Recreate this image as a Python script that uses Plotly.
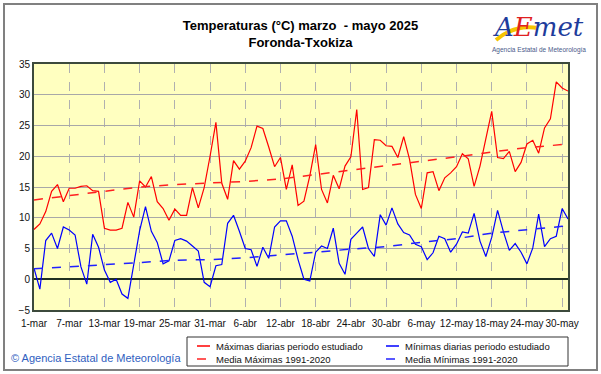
import pandas as pd
import plotly.graph_objects as go

# ---------------- data ----------------
dates = pd.date_range("2025-03-01", "2025-05-31", freq="D")

tmax = [8.1, 9.0, 11.0, 14.3, 15.4, 12.6, 14.8, 14.8, 15.1, 15.2, 14.4, 14.3,
        8.3, 8.0, 8.0, 8.3, 12.5, 10.1, 16.0, 15.0, 16.7, 12.6, 11.5, 9.6,
        11.4, 10.4, 10.4, 14.9, 11.6, 14.9, 20.0, 25.5, 15.6, 13.0, 19.3, 17.9,
        19.2, 21.4, 24.9, 24.5, 21.5, 18.3, 19.8, 14.6, 18.6, 12.0, 12.7, 16.8,
        21.9, 14.6, 12.4, 16.9, 14.7, 18.4, 19.9, 27.6, 14.6, 14.9, 22.7, 22.6,
        21.7, 21.6, 19.8, 23.2, 19.5, 13.8, 11.5, 17.3, 17.5, 14.4, 16.5, 17.3,
        18.3, 20.4, 19.6, 15.1, 18.4, 23.0, 27.3, 19.8, 19.6, 20.8, 17.5, 19.0,
        22.0, 22.6, 20.5, 24.6, 26.1, 32.1, 31.1, 30.6]

tmin = [1.8, -1.6, 6.3, 7.5, 5.0, 8.5, 8.0, 7.2, 2.0, -0.8, 7.3, 5.2,
        1.5, -0.5, 0.0, -2.4, -3.1, 2.7, 7.9, 11.8, 7.8, 6.0, 2.5, 3.0,
        6.3, 6.6, 6.2, 5.4, 4.6, -0.5, -1.2, 2.2, 2.4, 9.1, 10.4, 7.8,
        5.0, 4.8, 2.1, 5.2, 3.4, 8.5, 9.5, 9.5, 7.0, 3.2, 0.0, -0.3,
        4.4, 5.4, 5.0, 8.3, 2.6, 0.8, 6.5, 7.5, 8.5, 5.0, 3.7, 10.5,
        8.8, 11.6, 9.0, 7.6, 7.2, 5.7, 5.3, 3.2, 4.3, 7.0, 6.6, 4.4,
        5.7, 7.7, 7.5, 10.7, 6.2, 3.7, 6.8, 11.2, 7.7, 4.7, 5.8, 4.4,
        2.5, 5.1, 10.6, 5.3, 6.6, 7.0, 11.5, 9.8]

mean_dates = ["2025-03-01", "2025-03-07", "2025-03-13", "2025-03-19", "2025-03-25",
              "2025-03-31", "2025-04-06", "2025-04-12", "2025-04-18", "2025-04-24",
              "2025-04-30", "2025-05-06", "2025-05-12", "2025-05-18", "2025-05-24",
              "2025-05-30", "2025-05-31"]
mean_max = [12.9, 13.6, 14.4, 15.0, 15.4, 15.6, 15.9, 16.3, 17.0, 17.8, 18.5,
            19.2, 19.9, 20.7, 21.4, 21.9, 22.0]
mean_min = [1.7, 2.0, 2.3, 2.7, 3.1, 3.2, 3.5, 3.9, 4.4, 4.9, 5.3, 6.0, 6.6,
            7.5, 8.0, 8.6, 8.8]

tick_dates = ["2025-03-01", "2025-03-07", "2025-03-13", "2025-03-19", "2025-03-25",
              "2025-03-31", "2025-04-06", "2025-04-12", "2025-04-18", "2025-04-24",
              "2025-04-30", "2025-05-06", "2025-05-12", "2025-05-18", "2025-05-24",
              "2025-05-30"]
tick_labels = ["1-mar", "7-mar", "13-mar", "19-mar", "25-mar", "31-mar", "6-abr",
               "12-abr", "18-abr", "24-abr", "30-abr", "6-may", "12-may", "18-may",
               "24-may", "30-may"]
y_ticks = [-5, 0, 5, 10, 15, 20, 25, 30, 35]

series_names = ["Máximas diarias periodo estudiado", "Mínimas diarias periodo estudiado",
                "Media Máximas 1991-2020", "Media Mínimas 1991-2020"]
series_colors = ["#FF0000", "#0000FF", "#FF2020", "#2020FF"]

# ---------------- layout helpers ----------------
W, H = 601, 374
ML, MR, MT, MB = 34, 33, 64, 64
PW, PH = W - ML - MR, H - MT - MB


def X(px):
    return (px - ML) / PW


def Y(py):
    return (H - MB - py) / PH


FONT = "Arial, Liberation Sans, sans-serif"

fig = go.Figure()
fig.add_trace(go.Scatter(x=dates, y=tmax, mode="lines", name=series_names[0],
                         line=dict(color=series_colors[0], width=1.2)))
fig.add_trace(go.Scatter(x=dates, y=tmin, mode="lines", name=series_names[1],
                         line=dict(color=series_colors[1], width=1.2)))
fig.add_trace(go.Scatter(x=mean_dates, y=mean_max, mode="lines", name=series_names[2],
                         line=dict(color=series_colors[2], width=1.5, dash="dash")))
fig.add_trace(go.Scatter(x=mean_dates, y=mean_min, mode="lines", name=series_names[3],
                         line=dict(color=series_colors[3], width=1.5, dash="dash")))

fig.update_layout(
    width=W, height=H,
    margin=dict(l=ML, r=MR, t=MT, b=MB, autoexpand=False),
    paper_bgcolor="white",
    plot_bgcolor="#FFFFC0",
    font=dict(family=FONT, size=10, color="#111111"),
    title=dict(text="<b>Temperaturas (°C) marzo  - mayo 2025<br>Foronda-Txokiza</b>",
               x=0.5, xanchor="center", y=1 - 30 / H, yanchor="top",
               font=dict(family=FONT, size=13, color="#000000")),
    xaxis=dict(range=[dates[0], dates[-1]], tickvals=tick_dates, ticktext=tick_labels,
               tickangle=0, automargin=False, ticklabelstandoff=3,
               showgrid=True, gridcolor="#B0B0B0", griddash="dash", gridwidth=1,
               showline=True, mirror=True, linecolor="#3C4A3C", linewidth=2,
               ticks="", tickfont=dict(size=10, color="#111111"), zeroline=False),
    yaxis=dict(range=[-5, 35], tickvals=y_ticks, showgrid=True, gridcolor="#A8A8A8",
               automargin=False,
               gridwidth=1, showline=True, mirror=True, linecolor="#3C4A3C", linewidth=2,
               zeroline=True, zerolinecolor="#203020", zerolinewidth=2,
               ticks="", tickfont=dict(size=10, color="#111111")),
    showlegend=False,
)

# outer frame
fig.add_shape(type="rect", xref="paper", yref="paper",
              x0=X(4), x1=X(597), y0=Y(370), y1=Y(4),
              line=dict(color="#808080", width=2), layer="below")

# manual legend box
fig.add_shape(type="rect", xref="paper", yref="paper",
              x0=X(187), x1=X(568), y0=Y(366), y1=Y(337),
              line=dict(color="#333333", width=1), fillcolor="white")
leg_pos = [(197, 346), (386, 346), (197, 359), (386, 359)]
for i, (lx, ly) in enumerate(leg_pos):
    fig.add_shape(type="line", xref="paper", yref="paper",
                  x0=X(lx), x1=X(lx + 13), y0=Y(ly), y1=Y(ly),
                  line=dict(color=series_colors[i], width=1.5,
                            dash="solid" if i < 2 else "dash"))
    fig.add_annotation(xref="paper", yref="paper", x=X(lx + 17), y=Y(ly),
                       xanchor="left", yanchor="middle", showarrow=False,
                       text=series_names[i],
                       font=dict(family=FONT, size=9.5, color="#111111"))

# logo
fig.add_shape(type="path", xref="paper", yref="paper",
              path=f"M {X(496)},{Y(40)} Q {X(515)},{Y(24)} {X(538)},{Y(28)}",
              line=dict(color="#F5C400", width=4))
fig.add_annotation(xref="paper", yref="paper", x=X(538), y=Y(27), xanchor="center",
                   yanchor="middle", showarrow=False,
                   text="<i>A<span style='color:#E02020'>E</span>met</i>",
                   font=dict(family="DejaVu Serif, serif", size=26, color="#1E3C9C"))
fig.add_annotation(xref="paper", yref="paper", x=X(539), y=Y(50), xanchor="center",
                   yanchor="middle", showarrow=False,
                   text="Agencia Estatal de Meteorología",
                   font=dict(family=FONT, size=6.5, color="#4A5A8A"))

# copyright
fig.add_annotation(xref="paper", yref="paper", x=X(9), y=Y(358), xanchor="left",
                   yanchor="middle", showarrow=False,
                   text="© Agencia Estatal de Meteorología",
                   font=dict(family=FONT, size=11, color="#3060C0"))

fig.write_html("out.html", config={"displayModeBar": False},
               post_script="document.body.style.margin='0';document.body.style.padding='0';")
